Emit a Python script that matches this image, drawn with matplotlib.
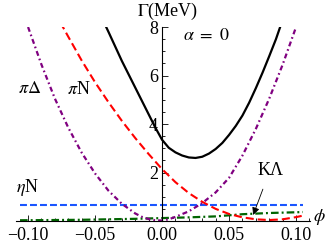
import matplotlib.pyplot as plt
from matplotlib.ticker import MultipleLocator

plt.rcParams['font.family'] = ['Liberation Serif', 'DejaVu Serif']
plt.rcParams['mathtext.fontset'] = 'stix'
plt.rcParams['lines.scale_dashes'] = False

# total width (black)
phi_total = [-0.046, -0.04, -0.035, -0.03, -0.025, -0.02, -0.015, -0.01, -0.005, 0.0,
             0.005, 0.01, 0.015, 0.02, 0.025, 0.03, 0.035, 0.04, 0.045, 0.05,
             0.055, 0.06, 0.065, 0.07, 0.075, 0.08, 0.085, 0.09]
gamma_total = [8.5, 7.8, 7.2, 6.6, 6.05, 5.5, 4.95, 4.4, 3.85, 3.35,
               3.02, 2.83, 2.7, 2.62, 2.6, 2.65, 2.78, 2.97, 3.22, 3.55,
               3.92, 4.35, 4.88, 5.48, 6.12, 6.8, 7.5, 8.3]

# pi N (red dashed)
phi_piN = [-0.076, -0.07, -0.06, -0.05, -0.04, -0.03, -0.02, -0.01, 0.0, 0.01,
           0.02, 0.03, 0.04, 0.05, 0.06, 0.07, 0.08, 0.09, 0.10, 0.105]
gamma_piN = [8.2, 7.6, 6.62, 5.72, 4.9, 4.13, 3.42, 2.76, 2.14, 1.6,
             1.15, 0.79, 0.5, 0.29, 0.15, 0.07, 0.04, 0.07, 0.16, 0.22]

# pi Delta (purple dash-dot)
phi_piD = [-0.10, -0.09, -0.08, -0.07, -0.06, -0.05, -0.04, -0.03, -0.02, -0.015, -0.01,
           -0.005, 0.0, 0.005, 0.01, 0.02, 0.03, 0.04, 0.05, 0.06, 0.07, 0.08, 0.09, 0.10]
gamma_piD = [8.0, 6.45, 5.05, 3.85, 2.82, 1.96, 1.25, 0.71, 0.31, 0.17, 0.08,
             0.03, 0.02, 0.07, 0.17, 0.4, 0.74, 1.18, 1.78, 2.7, 3.8, 5.05, 6.45, 8.0]

# eta N (blue dashed)
phi_etaN = [-0.106, 0.105]
gamma_etaN = [0.66, 0.66]

# K Lambda (green dash-dot)
phi_KL = [-0.106, -0.08, -0.06, -0.04, -0.02, 0.0, 0.02, 0.04, 0.06, 0.08, 0.10, 0.105]
gamma_KL = [0.03, 0.04, 0.05, 0.07, 0.09, 0.12, 0.15, 0.19, 0.28, 0.33, 0.36, 0.37]

xticks = [-0.10, -0.05, 0.0, 0.05, 0.10]
xticklabels = ['\u22120.10', '\u22120.05', '0.00', '0.05', '0.10']
yticks = [2, 4, 6, 8]

fig = plt.figure(figsize=(3.27, 2.45), dpi=100)
ax = fig.add_axes([16 / 327, 24 / 245, 294 / 327, 194 / 245])

ax.plot(phi_etaN, gamma_etaN, color='#1a55ff', lw=1.5, dashes=(5, 2.2))
ax.plot(phi_KL, gamma_KL, color='#006400', lw=1.6, dashes=(5.5, 2.2, 1.4, 2.2))
ax.plot(phi_piN, gamma_piN, color='red', lw=1.5, dashes=(5.8, 2.9))
ax.plot(phi_piD, gamma_piD, color='#800080', lw=1.6, dashes=(3.6, 2.2, 1.2, 2.2))
ax.plot(phi_total, gamma_total, color='black', lw=1.6)

ax.set_xlim(-0.109, 0.1104)
ax.set_ylim(0, 8)

for s in ['top', 'right']:
    ax.spines[s].set_visible(False)
ax.spines['left'].set_position(('data', 0))
ax.spines['bottom'].set_position(('data', 0))
ax.spines['left'].set_linewidth(0.8)
ax.spines['bottom'].set_linewidth(0.8)

ax.set_xticks(xticks)
ax.set_xticklabels(xticklabels)
ax.set_yticks(yticks)
ax.xaxis.set_minor_locator(MultipleLocator(0.01))
ax.yaxis.set_minor_locator(MultipleLocator(0.5))
ax.tick_params(which='both', direction='in', labelsize=13, width=0.6)
ax.tick_params(which='major', length=4)
ax.tick_params(which='minor', length=2.2)
ax.tick_params(axis='x', pad=4)
ax.tick_params(axis='y', pad=3)

ax.text(0.514, 1.0 + 16 / 194, r'$\Gamma$(MeV)', transform=ax.transAxes,
        ha='center', va='center', fontsize=13)
ax.text(1.0 + 9 / 294, 4 / 194, r'$\phi$', transform=ax.transAxes,
        ha='center', va='center', fontsize=13)

ax.text(-0.099, 5.48, r'$\pi\Delta$', ha='center', va='center', fontsize=13)
ax.text(-0.062, 5.44, r'$\pi$N', ha='center', va='center', fontsize=13)
ax.text(-0.1005, 1.4, r'$\eta$N', ha='center', va='center', fontsize=13)
ax.text(0.0328, 7.63, r'$\alpha\ =\ 0$', ha='center', va='center', fontsize=13)
ax.annotate('K\u039b', xy=(0.068, 0.25), xytext=(0.0806, 2.1),
            ha='center', va='center', fontsize=13,
            arrowprops=dict(arrowstyle='-|>', color='black', lw=0.6,
                            mutation_scale=11, shrinkA=6, shrinkB=0))

fig.savefig('out.png', dpi=100)
